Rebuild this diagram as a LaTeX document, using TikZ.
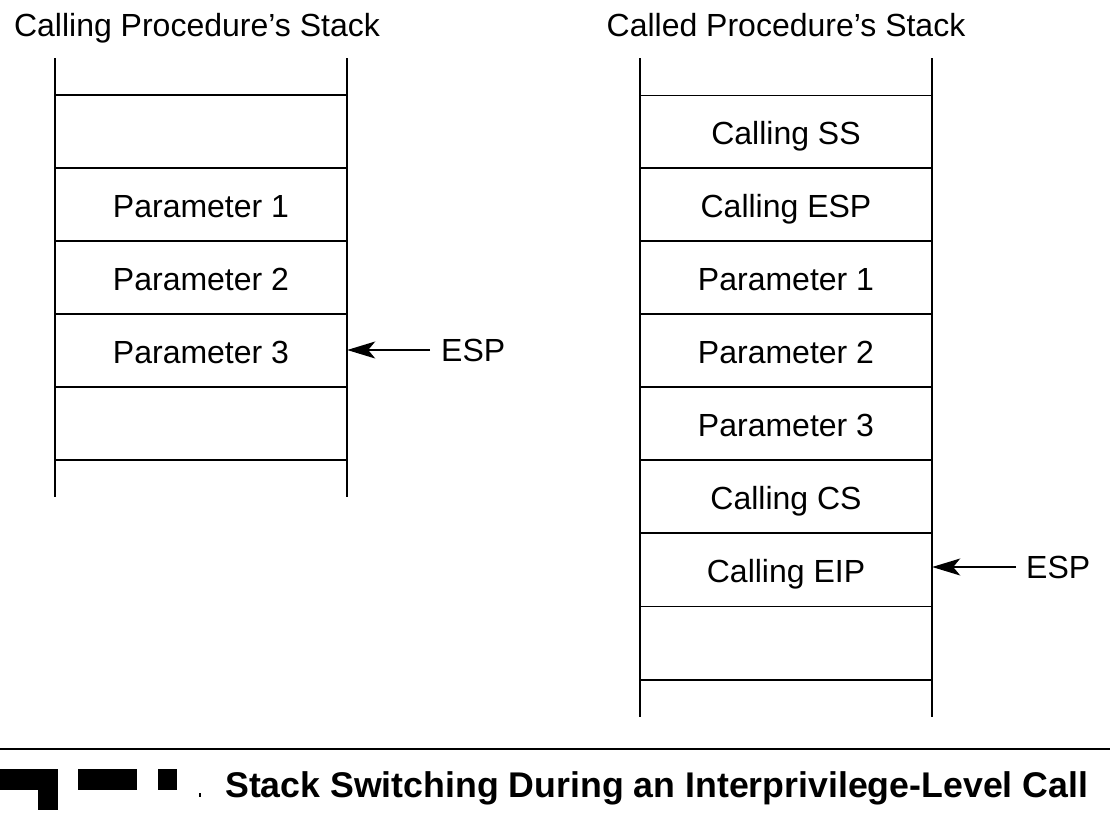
\documentclass[tikz,border=0pt]{standalone}
\usepackage{fontspec}
\setmainfont{Liberation Sans}
\usetikzlibrary{arrows.meta}
\begin{document}
\begin{tikzpicture}[x=1pt,y=-1pt,
  stackline/.style={line width=1.6pt},
  cell/.style={minimum width=292pt,minimum height=73pt,inner sep=0pt,text height=30pt,text depth=5pt,font=\fontsize{32}{38}\selectfont},
  ttl/.style={font=\fontsize{32}{38}\selectfont,anchor=base,inner sep=0pt},
  ptr/.style={line width=1.4pt,-{Stealth[length=28pt,width=17pt,inset=7pt]}},
  esp/.style={font=\fontsize{32}{38}\selectfont,anchor=west,inner ysep=0pt,inner xsep=0pt,text height=23pt,text depth=0pt}]
\useasboundingbox (0,0) rectangle (1110,814);

% ---------- Left stack ----------
\node[ttl] (tL) at (197,36.5) {Calling Procedure’s Stack};
\node[cell] (L1) at (201,131.5) {};
\node[cell] (L2) at (201,204.5) {Parameter 1};
\node[cell] (L3) at (201,277.5) {Parameter 2};
\node[cell] (L4) at (201,350.5) {Parameter 3};
\node[cell] (L5) at (201,423.5) {};
\draw[stackline] (55,58) -- (55,497);
\draw[stackline] (347,58) -- (347,497);
\foreach \n in {L1,L2,L3,L4,L5}{\draw[stackline] (\n.north west) -- (\n.north east);}
\draw[stackline] (L5.south west) -- (L5.south east);

\node[esp] (espL) at (430,350) {\hspace{11pt}ESP};
\draw[ptr] (espL.west) -- (espL.west -| L4.east);

% ---------- Right stack ----------
\node[ttl] (tR) at (786,36.5) {Called Procedure’s Stack};
\node[cell] (R1) at (786,132) {Calling SS};
\node[cell] (R2) at (786,204.5) {Calling ESP};
\node[cell] (R3) at (786,277.5) {Parameter 1};
\node[cell] (R4) at (786,350.5) {Parameter 2};
\node[cell] (R5) at (786,423.5) {Parameter 3};
\node[cell] (R6) at (786,496.5) {Calling CS};
\node[cell] (R7) at (786,569.5) {Calling EIP};
\node[cell] (R8) at (786,643) {};
\draw[stackline] (640,58) -- (640,717);
\draw[stackline] (932,58) -- (932,717);
\foreach \n in {R1,R2,R3,R4,R5,R6,R7,R8}{\draw[stackline] (\n.north west) -- (\n.north east);}
\draw[stackline] (R8.south west) -- (R8.south east);

\node[esp] (espR) at (1016,567) {\hspace{10pt}ESP};
\draw[ptr] (espR.west) -- (espR.west -| R7.east);

% ---------- Caption ----------
\draw[line width=1.6pt] (0,749) -- (1110,749);
\fill (0,769) rectangle (58,790);
\fill (38,769) rectangle (58,810);
\fill (78,769) rectangle (137,790);
\fill (158,769) rectangle (177,790);
\fill (199,793) rectangle (200.5,797);
\node[font=\bfseries\fontsize{35.7}{43}\selectfont,anchor=base west,inner sep=0pt] (cap) at (225,797) {Stack Switching During an Interprivilege-Level Call};
\end{tikzpicture}
\end{document}
